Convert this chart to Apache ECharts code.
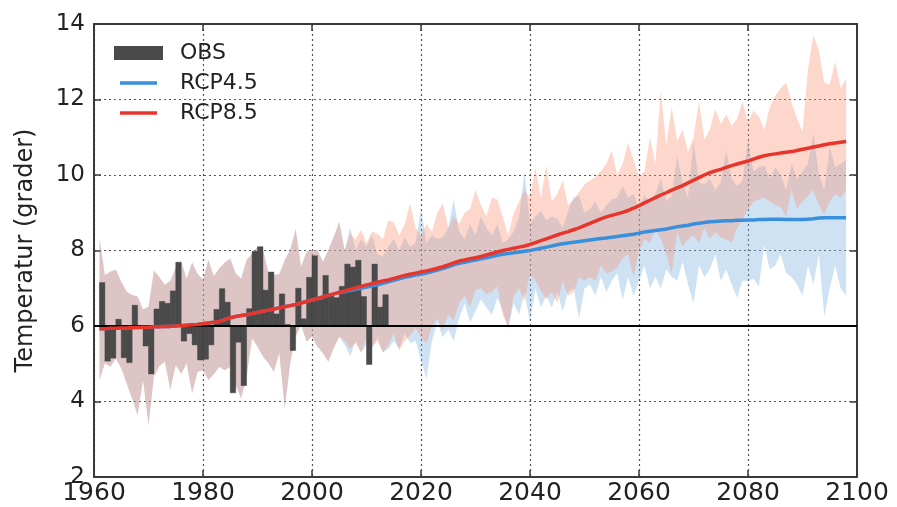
<!DOCTYPE html>
<html>
<head>
<meta charset="utf-8">
<script src="https://cdn.jsdelivr.net/npm/echarts@6/dist/echarts.min.js"></script>
<style>
html,body{margin:0;padding:0;background:#fff;}
#chart{width:897px;height:507px;}
</style>
</head>
<body>
<div id="chart"></div>
<script>
// ---------- axis ticks ----------
const xTicks = [1960, 1980, 2000, 2020, 2040, 2060, 2080, 2100];
const xTickLabels = ['1960', '1980', '2000', '2020', '2040', '2060', '2080', '2100'];
const yTicks = [2, 4, 6, 8, 10, 12, 14];
const yTickLabels = ['2', '4', '6', '8', '10', '12', '14'];
const baselineValue = 6;

// ---------- observations (1961-2013) ----------
const obsStartYear = 1961;
const obsValues = [
  7.15, 5.07, 5.15, 6.18, 5.16, 5.03, 6.55, 5.96, 5.47, 4.73,
  6.45, 6.65, 6.6, 6.93, 7.69, 5.6, 5.8, 5.5, 5.1, 5.12,
  5.5, 6.44, 6.99, 6.63, 4.23, 5.57, 4.42, 6.46, 7.98, 8.1,
  6.95, 7.43, 6.32, 6.85, 6.04, 5.35, 7.0, 6.19, 7.29, 7.86,
  6.7, 7.34, 6.8, 6.75, 7.05, 7.64, 7.56, 7.74, 6.78, 4.98,
  7.64, 6.5, 6.83
];

// ---------- model ensemble, historical part (1961-2005) ----------
const histStartYear = 1961;
const histUpper = [
  8.32, 7.35, 7.44, 7.5, 7.17, 6.91, 6.82, 6.78, 6.44, 6.51,
  7.47, 7.29, 7.09, 7.2, 7.55, 7.7, 7.26, 7.68, 7.38, 7.24,
  7.75, 7.32, 7.53, 7.68, 7.79, 7.39, 7.26, 7.75, 7.92, 8.1,
  8.01, 7.44, 7.35, 7.38, 7.75, 8.01, 8.56, 7.57, 7.97, 8.01,
  8.01, 7.7, 8.01, 8.37, 8.76
];
const histLower = [
  4.57, 5.01, 4.92, 5.14, 4.88, 4.48, 4.08, 3.64, 4.57, 3.38,
  4.66, 4.94, 5.05, 4.32, 4.97, 4.73, 5.01, 4.22, 4.79, 4.83,
  4.57, 4.73, 4.92, 4.83, 4.92, 4.44, 4.08, 4.66, 5.67, 5.45,
  5.19, 5.01, 4.79, 5.28, 3.82, 5.01, 5.72, 6.03, 5.58, 5.72,
  5.45, 5.28, 5.05, 5.41, 5.72
];
const histMean = [
  5.93, 5.93, 5.94, 5.94, 5.95, 5.95, 5.96, 5.96, 5.97, 5.97,
  5.98, 5.98, 5.99, 5.99, 6.0, 6.01, 6.02, 6.03, 6.04, 6.06,
  6.08, 6.1, 6.12, 6.17, 6.22, 6.25, 6.28, 6.3, 6.33, 6.36,
  6.39, 6.42, 6.45, 6.48, 6.51, 6.54, 6.57, 6.61, 6.65, 6.69,
  6.73, 6.77, 6.81, 6.85, 6.89
];

// ---------- scenarios (2006-2098) ----------
const futureStartYear = 2006;
const rcp85Upper = [
  8.0, 8.45, 8.3, 8.55, 8.2, 8.5, 8.45, 8.3, 8.8, 8.75,
  8.4, 8.7, 9.25, 8.6, 8.4, 8.7, 8.5, 9.0, 9.25, 8.6,
  8.9, 8.7, 9.0, 9.1, 9.6, 9.2, 8.9, 9.4, 9.35, 8.9,
  8.4, 9.0, 9.3, 9.6, 9.4, 10.2, 9.4, 10.25, 9.3, 9.5,
  9.85, 9.2, 9.35, 9.55, 9.75, 9.85, 9.95, 10.1, 10.3, 10.65,
  10.0, 10.3, 10.85, 10.4, 9.95, 10.1, 11.0, 10.3, 12.25, 10.8,
  11.8, 10.9, 11.2, 10.6, 11.0, 11.95, 10.95, 11.2, 11.75, 11.35,
  11.6, 11.3, 11.5, 11.95, 11.4, 11.7, 11.55, 11.2, 11.8, 12.1,
  12.3, 12.45, 11.9, 11.5, 11.15, 12.8, 13.7, 13.3, 12.45, 12.4,
  13.0, 12.3, 12.55
];
const rcp85Lower = [
  5.6, 5.4, 5.55, 5.3, 5.7, 5.45, 5.6, 5.3, 5.5, 5.8,
  5.35, 5.6, 5.75, 5.95, 5.7, 5.55, 6.0, 6.2, 5.9, 6.3,
  6.15, 6.6, 6.8, 6.5, 6.95, 7.0, 6.85, 6.9, 7.05, 6.3,
  5.95, 6.8, 7.0, 6.65, 7.4, 7.2, 6.95, 6.7, 6.9, 6.6,
  7.2, 6.8, 6.9, 7.3, 7.2, 7.3, 7.2, 7.6, 7.4, 7.45,
  7.55, 7.8, 7.9, 7.3, 8.0, 8.3, 8.2, 8.55, 8.3, 7.9,
  7.4, 8.5, 8.1, 8.3, 8.4, 8.2, 8.6, 8.3, 8.5, 8.35,
  8.3, 8.2, 8.6, 8.8, 9.1, 9.3, 9.35, 9.4, 9.3, 9.2,
  9.15, 8.9, 9.6, 9.1, 9.3, 9.45, 9.6, 9.2, 8.95, 9.3,
  9.5, 9.4, 9.6
];
const rcp85Mean = [
  6.93, 6.97, 7.01, 7.05, 7.09, 7.12, 7.16, 7.19, 7.22, 7.26,
  7.3, 7.34, 7.37, 7.4, 7.43, 7.46, 7.49, 7.53, 7.57, 7.62,
  7.67, 7.72, 7.75, 7.78, 7.81, 7.84, 7.88, 7.92, 7.96, 8.0,
  8.03, 8.06, 8.09, 8.12, 8.16, 8.21, 8.26, 8.31, 8.36, 8.41,
  8.46, 8.5, 8.55, 8.6, 8.66, 8.72, 8.78, 8.84, 8.89, 8.93,
  8.97, 9.01, 9.06, 9.12, 9.19, 9.26, 9.33, 9.4, 9.47, 9.53,
  9.6, 9.66, 9.72, 9.79, 9.86, 9.93, 10.0, 10.06, 10.11, 10.15,
  10.2, 10.25, 10.29, 10.33, 10.37, 10.42, 10.47, 10.51, 10.54, 10.56,
  10.58, 10.6, 10.62, 10.65, 10.68, 10.71, 10.74, 10.77, 10.8, 10.83,
  10.85, 10.87, 10.89
];
const rcp45Upper = [
  8.0, 8.6, 8.0, 8.3, 8.1, 8.4, 7.9, 7.85, 8.1, 8.3,
  8.0, 8.35, 8.1, 8.2, 9.1, 8.2, 8.4, 8.3, 8.35, 8.6,
  9.35, 8.5, 8.3, 8.7, 8.4, 8.9, 8.6, 8.4, 8.7, 8.2,
  8.3, 8.5, 8.9, 10.1, 8.7, 8.9, 9.05, 8.8, 8.9, 8.85,
  8.6, 9.05, 9.4, 9.45, 9.0, 9.1, 9.3, 9.0, 9.2, 9.35,
  9.4, 9.7, 9.4, 9.5, 9.1, 9.45, 9.3, 9.5, 9.9, 9.3,
  9.45, 10.5, 9.8, 9.4, 10.9, 9.8, 9.75, 9.9, 9.6, 9.8,
  10.65, 9.9, 9.7, 9.85, 10.95, 10.1, 10.2, 10.25, 9.9, 10.2,
  10.0, 9.6, 10.3, 9.9, 10.1, 10.3, 11.1, 10.0, 9.6, 10.75,
  10.2, 10.3, 10.4
];
const rcp45Lower = [
  5.5, 5.2, 5.6, 5.3, 5.5, 5.4, 5.7, 5.3, 5.4, 5.6,
  5.4, 5.8, 5.55, 5.6, 5.1, 4.6, 5.6, 6.1, 5.7, 5.9,
  5.6, 6.2, 6.6, 6.1, 6.4, 6.7, 6.5, 6.3, 6.75, 6.4,
  5.95, 6.6, 6.3, 6.9, 6.1, 7.0, 6.5, 6.8, 6.5, 6.9,
  6.4, 6.9, 7.0, 6.2, 7.0, 7.1, 6.8, 7.3, 6.9, 7.2,
  7.4, 6.7, 7.3, 6.8, 7.2, 7.6, 7.0, 7.3, 7.0, 7.5,
  7.3, 7.2, 7.7, 7.1, 6.6, 7.6, 7.3, 7.5, 7.9, 7.2,
  7.5, 7.1, 6.75, 7.2, 7.2, 7.25, 7.05, 8.15, 7.5, 7.6,
  7.9, 7.4, 7.3, 7.1, 6.8, 7.6, 7.1, 7.9, 6.25, 7.0,
  7.6, 7.0, 6.8
];
const rcp45Mean = [
  6.91, 6.94, 6.97, 7.0, 7.03, 7.06, 7.09, 7.13, 7.17, 7.21,
  7.25, 7.29, 7.32, 7.35, 7.37, 7.4, 7.44, 7.48, 7.52, 7.57,
  7.62, 7.66, 7.69, 7.72, 7.75, 7.78, 7.81, 7.84, 7.87, 7.9,
  7.92, 7.94, 7.96, 7.98, 8.0, 8.03, 8.06, 8.09, 8.12, 8.15,
  8.18, 8.2, 8.22, 8.24, 8.26, 8.28, 8.3, 8.32, 8.33, 8.35,
  8.37, 8.39, 8.41, 8.43, 8.46, 8.49, 8.51, 8.53, 8.55, 8.57,
  8.6, 8.63, 8.65, 8.67, 8.7, 8.72, 8.74, 8.76, 8.77, 8.78,
  8.79, 8.79, 8.8, 8.8, 8.81, 8.81, 8.82, 8.82, 8.83, 8.83,
  8.83, 8.82, 8.82, 8.82, 8.82, 8.83, 8.84, 8.86, 8.87, 8.87,
  8.87, 8.87, 8.87
];

// ---------- build series data ----------
function withYears(start, values) {
  return values.map((v, i) => [start + i, v]);
}
function bandRows(start, lows, ups) {
  return lows.map((lo, i) => [start + i, lo, ups[i]]);
}
const band45Rows = bandRows(histStartYear, histLower.concat(rcp45Lower), histUpper.concat(rcp45Upper));
const band85Rows = bandRows(histStartYear, histLower.concat(rcp85Lower), histUpper.concat(rcp85Upper));
const mean45Data = withYears(histStartYear, histMean.concat(rcp45Mean));
const mean85Data = withYears(histStartYear, histMean.concat(rcp85Mean));
const obsData = withYears(obsStartYear, obsValues);

function bandSeries(name, rows, fill, z) {
  return {
    name: name, type: 'custom', data: rows, z: z, silent: true,
    encode: { x: 0, y: [1, 2] },
    renderItem: function (params, api) {
      if (params.dataIndex !== 0) return null;
      const top = rows.map(r => api.coord([r[0], r[2]]));
      const bottom = rows.map(r => api.coord([r[0], r[1]])).reverse();
      return {
        type: 'polygon',
        shape: { points: top.concat(bottom) },
        style: { fill: fill, stroke: null, lineWidth: 0 }
      };
    }
  };
}

const FONT = 'DejaVu Sans';
const frameColor = '#3a3a3a';
const gridLine = { show: true, lineStyle: { type: [2, 3], color: '#555', width: 1.2 } };
const lineIcon = 'path://M0,0 M49,14 M6,5.3 L43,5.3 L43,8.7 L6,8.7 Z';

const chart = echarts.init(document.getElementById('chart'), null, { renderer: 'canvas' });
chart.setOption({
  animation: false,
  backgroundColor: '#fff',
  grid: { left: 94, right: 40, top: 24, bottom: 30, containLabel: false },
  legend: {
    orient: 'vertical', left: 114, top: 42, padding: 0,
    itemWidth: 49, itemHeight: 14, itemGap: 8,
    selectedMode: false,
    itemStyle: { borderWidth: 0 },
    textStyle: { fontFamily: FONT, fontSize: 22, color: '#222', padding: [0, 0, 0, 12] },
    data: [
      { name: 'OBS', icon: 'rect' },
      { name: 'RCP4.5', icon: lineIcon },
      { name: 'RCP8.5', icon: lineIcon }
    ]
  },
  xAxis: [
    {
      type: 'value', position: 'bottom',
      min: xTicks[0], max: xTicks[xTicks.length - 1], interval: xTicks[1] - xTicks[0],
      axisLine: { show: true, onZero: false, lineStyle: { color: frameColor, width: 2 } },
      axisTick: { show: true, inside: true, length: 7, lineStyle: { color: frameColor, width: 1.5 } },
      axisLabel: {
        fontFamily: FONT, fontSize: 25, color: '#222', margin: 4,
        formatter: v => { const i = xTicks.indexOf(v); return i >= 0 ? xTickLabels[i] : ''; }
      },
      splitLine: gridLine
    },
    {
      type: 'value', position: 'top',
      min: xTicks[0], max: xTicks[xTicks.length - 1], interval: xTicks[1] - xTicks[0],
      axisLine: { show: true, onZero: false, lineStyle: { color: frameColor, width: 2 } },
      axisTick: { show: true, inside: true, length: 7, lineStyle: { color: frameColor, width: 1.5 } },
      axisLabel: { show: false },
      splitLine: { show: false }
    }
  ],
  yAxis: [
    {
      type: 'value', position: 'left',
      min: yTicks[0], max: yTicks[yTicks.length - 1], interval: yTicks[1] - yTicks[0],
      name: 'Temperatur (grader)', nameLocation: 'middle', nameGap: 56, nameRotate: 90,
      nameTextStyle: { fontFamily: FONT, fontSize: 24, color: '#222' },
      axisLine: { show: true, onZero: false, lineStyle: { color: frameColor, width: 2 } },
      axisTick: { show: true, inside: true, length: 7, lineStyle: { color: frameColor, width: 1.5 } },
      axisLabel: {
        fontFamily: FONT, fontSize: 23, color: '#222', margin: 9,
        formatter: v => { const i = yTicks.indexOf(v); return i >= 0 ? yTickLabels[i] : ''; }
      },
      splitLine: gridLine
    },
    {
      type: 'value', position: 'right',
      min: yTicks[0], max: yTicks[yTicks.length - 1], interval: yTicks[1] - yTicks[0],
      axisLine: { show: true, onZero: false, lineStyle: { color: frameColor, width: 2 } },
      axisTick: { show: true, inside: true, length: 7, lineStyle: { color: frameColor, width: 1.5 } },
      axisLabel: { show: false },
      splitLine: { show: false }
    }
  ],
  series: [
    bandSeries('band45', band45Rows, 'rgba(120,175,225,0.36)', 1),
    bandSeries('band85', band85Rows, 'rgba(248,140,110,0.35)', 2),
    {
      name: 'OBS', type: 'custom', data: obsData, z: 3,
      itemStyle: { color: '#4a4a4a' },
      renderItem: function (params, api) {
        const x = api.value(0), v = api.value(1);
        const p0 = api.coord([x, baselineValue]);
        const p1 = api.coord([x + 1, v]);
        return {
          type: 'rect',
          shape: { x: p0[0], y: Math.min(p0[1], p1[1]), width: p1[0] - p0[0], height: Math.abs(p1[1] - p0[1]) },
          style: { fill: '#4a4a4a', stroke: '#3a3a3a', lineWidth: 0.4 }
        };
      },
      markLine: {
        silent: true, symbol: 'none', animation: false,
        label: { show: false },
        lineStyle: { color: '#000', width: 2, type: 'solid' },
        data: [{ yAxis: baselineValue }]
      }
    },
    {
      name: 'RCP4.5', type: 'line', data: mean45Data, z: 4,
      symbol: 'none', color: '#3a8fdc',
      lineStyle: { color: '#3a8fdc', width: 3.5 }
    },
    {
      name: 'RCP8.5', type: 'line', data: mean85Data, z: 5,
      symbol: 'none', color: '#e8352c',
      lineStyle: { color: '#e8352c', width: 3.5 }
    }
  ]
});
</script>
</body>
</html>
